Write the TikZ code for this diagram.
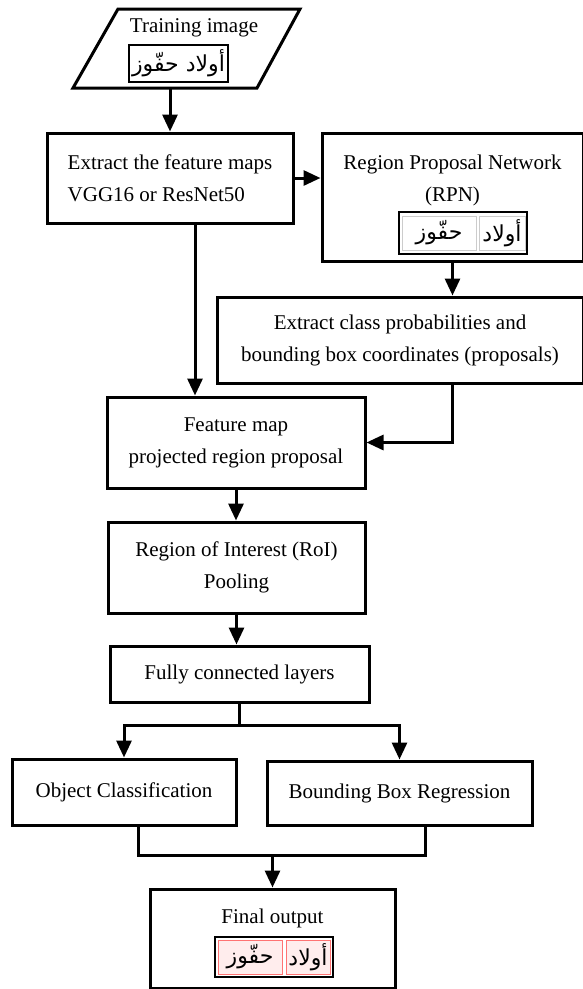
\documentclass[tikz,border=0pt]{standalone}
\usepackage{fontspec}
\setmainfont{Liberation Serif}
\newfontfamily\arabicfont[Script=Arabic]{DejaVu Sans}
\TeXXeTstate=1
\usetikzlibrary{arrows.meta}

\begin{document}
\begin{tikzpicture}[x=1pt, y=-1pt,
	box/.style={draw, line width=3pt, inner sep=0pt, align=center, font=\fontsize{21}{32}\selectfont},
	txt/.style={inner sep=0pt, align=center, font=\fontsize{21}{32}\selectfont},
	word/.style={inner sep=0pt, font=\arabicfont\fontsize{22}{24}\selectfont},
	wordframe/.style={draw, line width=2.8pt, inner sep=0pt},
	flow/.style={line width=3pt, -{Triangle[length=17pt, width=15pt]}},
	link/.style={line width=3pt}]
	\useasboundingbox (0,0) rectangle (583,989);

	% input image
	\coordinate (trainA) at (73,88);
	\coordinate (trainB) at (257,88);
	\coordinate (trainC) at (300,9);
	\coordinate (trainD) at (118,9);
	\coordinate (trainout) at (170,88);
	\draw[line width=3pt, line join=miter] (trainA) -- (trainB) -- (trainC) -- (trainD) -- cycle;
	\node[txt] (trainname) at (194,28) {Training image};
	\node[wordframe, word, minimum width=99pt, minimum height=37pt] (trainword) at (178.5,63.5) {\beginR أولاد حفّوز\endR};

	% backbone and RPN
	\node[box, align=left, minimum width=246pt, minimum height=90pt] (extract) at (170,178) {Extract the feature maps\\VGG16 or ResNet50};
	\node[box, minimum width=261pt, minimum height=128pt] (rpn) at (452.5,197) {};
	\node[txt] (rpnname) at (452.5,180) {Region Proposal Network\\(RPN)};
	\node[wordframe, minimum width=128pt, minimum height=42pt] (rpnword) at (463,233) {};
	\node[word, draw=gray!40, line width=1pt, minimum width=74pt, minimum height=34pt] (rpnleft) at (439,233) {\beginR حفّوز\endR};
	\node[word, draw=gray!40, line width=1pt, minimum width=46pt, minimum height=34pt] (rpnright) at (502,233) {\beginR أولاد\endR};
	\node[box, minimum width=366pt, minimum height=86pt] (classes) at (400,340) {Extract class probabilities and\\bounding box coordinates (proposals)};

	% detection head
	\node[box, minimum width=258pt, minimum height=91pt] (feat) at (236,442.5) {Feature map\\projected region proposal};
	\node[box, minimum width=257pt, minimum height=91pt] (roi) at (236.5,567.5) {Region of Interest (RoI)\\Pooling};
	\node[box, minimum width=259pt, minimum height=56pt] (fc) at (239.5,674) {Fully connected layers};
	\node[box, minimum width=224pt, minimum height=66pt] (cls) at (124,792) {Object Classification};
	\node[box, minimum width=265pt, minimum height=64pt] (reg) at (399.5,793) {Bounding Box Regression};

	% output
	\node[box, minimum width=245pt, minimum height=99pt] (final) at (272.5,938.5) {};
	\node[txt] (finalname) at (272.5,918) {Final output};
	\node[wordframe, minimum width=118pt, minimum height=40pt] (finalword) at (274,957) {};
	\node[word, draw=red!55, fill=red!7, line width=0.8pt, minimum width=64pt, minimum height=34pt] (finalleft) at (250,957) {\beginR حفّوز\endR};
	\node[word, draw=red!55, fill=red!7, line width=0.8pt, minimum width=44pt, minimum height=34pt] (finalright) at (308,957) {\beginR أولاد\endR};

	\draw[flow] (trainout) -- (extract.north);
	\draw[flow] (extract.east) -- (extract.east -| rpn.west);
	\draw[flow] (rpn.south) -- (rpn.south |- classes.north);
	\draw[flow] (classes.south -| rpn.south) |- (feat.east);
	\draw[flow] ([xshift=25pt]extract.south) -- ([xshift=25pt]extract.south |- feat.north);
	\draw[flow] (feat.south) -- (feat.south |- roi.north);
	\draw[flow] (roi.south) -- (roi.south |- fc.north);

	\coordinate (split) at (239.5,725);
	\draw[link] (fc.south) -- (split);
	\draw[flow] (split) -| (cls.north);
	\draw[flow] (split) -| (reg.north);

	\coordinate (merge) at (272.5,855);
	\draw[link] ([xshift=14pt]cls.south) |- (merge) -| ([xshift=25.5pt]reg.south);
	\draw[flow] (merge) -- (final.north);
\end{tikzpicture}
\end{document}
